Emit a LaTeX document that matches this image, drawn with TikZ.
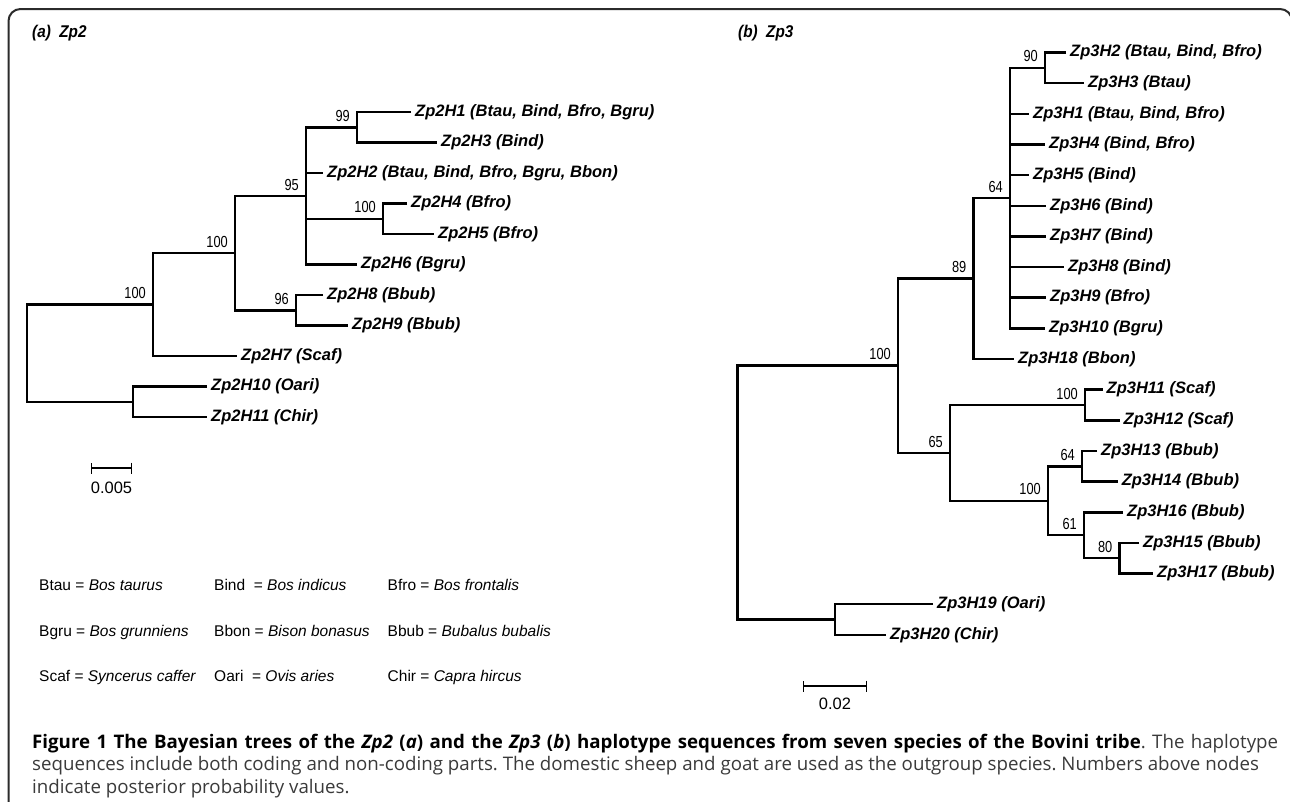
\documentclass[tikz,border=0pt]{standalone}
\usepackage{fontspec}
\usetikzlibrary{arrows.meta}
\setmainfont{Liberation Sans}
\newfontfamily\narrowsans[FakeStretch=0.8]{Liberation Sans}
\newfontfamily\titlesans[FakeStretch=0.9]{Liberation Sans}
\newfontfamily\capsans{Open Sans}
\definecolor{framecol}{HTML}{2B2B2B}
\definecolor{capgrey}{HTML}{3A3A3A}
\begin{document}
\frenchspacing
\begin{tikzpicture}[x=1pt,y=-1pt,
  br/.style={line width=2.5pt, line join=miter},
  leaf/.style={anchor=west, inner xsep=4pt, inner ysep=0pt, font=\fontsize{16.5}{18}\selectfont\bfseries\itshape},
  bs/.style={anchor=south east, inner sep=0pt, xshift=-7pt, yshift=5.5pt, font=\narrowsans\fontsize{16}{18}\selectfont},
  ttl/.style={anchor=west, inner sep=0pt, font=\titlesans\fontsize{17}{19}\selectfont\bfseries\itshape},
  sbar/.style={line width=1.3pt, {Bar[width=11pt,line width=1.3pt]}-{Bar[width=11pt,line width=1.3pt]}},
  sblab/.style={inner sep=0pt, font=\fontsize{16.5}{18}\selectfont},
  lg/.style={anchor=base west, inner sep=0pt, font=\fontsize{15.5}{17}\selectfont},
  capline/.style={anchor=base west, inner sep=0pt, font=\capsans\fontsize{18.7}{22.5}\selectfont}
]
\useasboundingbox (0,0) rectangle (1290,801);
% frame
\draw[line width=2pt, framecol, rounded corners=12pt] (8.5,815) -- (8.5,9) -- (1292,9) -- (1292,815);

% titles
\node[ttl] (ta) at (32,33) {(a)~~Zp2};
\node[ttl] (tb) at (738,33) {(b)~~Zp3};

% ---------- left tree (Zp2) ----------
\node[leaf] (l1) at (411,112) {Zp2H1 (Btau, Bind, Bfro, Bgru)};
\node[leaf] (l3) at (437,142.5) {Zp2H3 (Bind)};
\node[leaf] (l2) at (323,173) {Zp2H2 (Btau, Bind, Bfro, Bgru, Bbon)};
\node[leaf] (l4) at (407,203.5) {Zp2H4 (Bfro)};
\node[leaf] (l5) at (434,234) {Zp2H5 (Bfro)};
\node[leaf] (l6) at (357,264.5) {Zp2H6 (Bgru)};
\node[leaf] (l8) at (323,295) {Zp2H8 (Bbub)};
\node[leaf] (l9) at (348,325.5) {Zp2H9 (Bbub)};
\node[leaf] (l7) at (237,356) {Zp2H7 (Scaf)};
\node[leaf] (l10) at (207,386.5) {Zp2H10 (Oari)};
\node[leaf] (l11) at (207,417) {Zp2H11 (Chir)};

\coordinate (n99) at (357,127.25);
\coordinate (n100c) at (383,218.75);
\coordinate (n95) at (306,195.9);
\coordinate (n96) at (296,310.25);
\coordinate (nB) at (235,253.1);
\coordinate (nA) at (153,304.5);
\coordinate (nOut) at (133,401.75);
\coordinate (root) at (27,353.1);

\draw[br] (l1.west) -| (n99) |- (l3.west);
\draw[br] (l4.west) -| (n100c) |- (l5.west);
\draw[br] (n99) -| (n95) |- (l6.west);
\draw[br] (n95 |- l2.west) -- (l2.west);
\draw[br] (n95 |- n100c) -- (n100c);
\draw[br] (l8.west) -| (n96) |- (l9.west);
\draw[br] (n95) -| (nB) |- (n96);
\draw[br] (nB) -| (nA) |- (l7.west);
\draw[br] (l10.west) -| (nOut) |- (l11.west);
\draw[br] (nA) -| (root) |- (nOut);

\node[bs] (b99) at (n99) {99};
\node[bs] (b100c) at (n100c) {100};
\node[bs] (b95) at (n95) {95};
\node[bs] (b96) at (n96) {96};
\node[bs] (bB) at (nB) {100};
\node[bs] (bA) at (nA) {100};

% scale bar left
\coordinate (sa1) at (91,468);
\coordinate (sa2) at (132,468);
\draw[sbar] (sa1) -- (sa2);
\node[sblab] (sat) at (111.5,488) {0.005};

% legend
\node[lg] (lg1) at (39,590.5) {Btau = \textit{Bos taurus}};
\node[lg] (lg2) at (214,590.5) {Bind~~= \textit{Bos indicus}};
\node[lg] (lg3) at (387.5,590.5) {Bfro = \textit{Bos frontalis}};
\node[lg] (lg4) at (39,636.5) {Bgru = \textit{Bos grunniens}};
\node[lg] (lg5) at (214,636.5) {Bbon = \textit{Bison bonasus}};
\node[lg] (lg6) at (387.5,636.5) {Bbub = \textit{Bubalus bubalis}};
\node[lg] (lg7) at (39,681.5) {Scaf = \textit{Syncerus caffer}};
\node[lg] (lg8) at (214,681.5) {Oari~~= \textit{Ovis aries}};
\node[lg] (lg9) at (387.5,681.5) {Chir = \textit{Capra hircus}};

% ---------- right tree (Zp3) ----------
\node[leaf] (r2) at (1066,52.5) {Zp3H2 (Btau, Bind, Bfro)};
\node[leaf] (r3) at (1084,83.15) {Zp3H3 (Btau)};
\node[leaf] (r1) at (1029,113.8) {Zp3H1 (Btau, Bind, Bfro)};
\node[leaf] (r4) at (1045,144.45) {Zp3H4 (Bind, Bfro)};
\node[leaf] (r5) at (1029,175.1) {Zp3H5 (Bind)};
\node[leaf] (r6) at (1046,205.75) {Zp3H6 (Bind)};
\node[leaf] (r7) at (1046,236.4) {Zp3H7 (Bind)};
\node[leaf] (r8) at (1064,267.05) {Zp3H8 (Bind)};
\node[leaf] (r9) at (1046,297.7) {Zp3H9 (Bfro)};
\node[leaf] (r10) at (1045,328.35) {Zp3H10 (Bgru)};
\node[leaf] (r18) at (1014,359) {Zp3H18 (Bbon)};
\node[leaf] (r11) at (1102.5,389.65) {Zp3H11 (Scaf)};
\node[leaf] (r12) at (1119.5,420.3) {Zp3H12 (Scaf)};
\node[leaf] (r13) at (1097,450.95) {Zp3H13 (Bbub)};
\node[leaf] (r14) at (1117.6,481.6) {Zp3H14 (Bbub)};
\node[leaf] (r16) at (1123,512.25) {Zp3H16 (Bbub)};
\node[leaf] (r15) at (1139,542.9) {Zp3H15 (Bbub)};
\node[leaf] (r17) at (1153,573.55) {Zp3H17 (Bbub)};
\node[leaf] (r19) at (933,604.2) {Zp3H19 (Oari)};
\node[leaf] (r20) at (886,634.85) {Zp3H20 (Chir)};

\coordinate (m90) at (1045,67.8);
\coordinate (m64) at (1010,198.1);
\coordinate (m89) at (973.5,278.5);
\coordinate (m100s) at (1085,405);
\coordinate (m64b) at (1082,466.3);
\coordinate (m80) at (1119.5,558.2);
\coordinate (m61) at (1084,535.2);
\coordinate (m100b) at (1048,500.8);
\coordinate (m65) at (950,452.9);
\coordinate (m100i) at (898,365.7);
\coordinate (mOut) at (835,619.5);
\coordinate (mroot) at (737.6,492.6);

\draw[br] (r2.west) -| (m90) |- (r3.west);
\draw[br] (m90) -| (m64) |- (r10.west);
\foreach \r in {r1,r4,r5,r6,r7,r8,r9} \draw[br] (m64 |- \r.west) -- (\r.west);
\draw[br] (m64) -| (m89) |- (r18.west);
\draw[br] (r11.west) -| (m100s) |- (r12.west);
\draw[br] (r13.west) -| (m64b) |- (r14.west);
\draw[br] (r15.west) -| (m80) |- (r17.west);
\draw[br] (r16.west) -| (m61) |- (m80);
\draw[br] (m64b) -| (m100b) |- (m61);
\draw[br] (m100s) -| (m65) |- (m100b);
\draw[br] (m89) -| (m100i) |- (m65);
\draw[br] (r19.west) -| (mOut) |- (r20.west);
\draw[br] (m100i) -| (mroot) |- (mOut);

\node[bs] (c90) at (m90) {90};
\node[bs] (c64) at (m64) {64};
\node[bs] (c89) at (m89) {89};
\node[bs] (c100i) at (m100i) {100};
\node[bs] (c100s) at (m100s) {100};
\node[bs] (c65) at (m65) {65};
\node[bs] (c64b) at (m64b) {64};
\node[bs] (c100b) at (m100b) {100};
\node[bs] (c61) at (m61) {61};
\node[bs] (c80) at (m80) {80};

% scale bar right
\coordinate (sb1) at (803,686);
\coordinate (sb2) at (867,686);
\draw[sbar] (sb1) -- (sb2);
\node[sblab] (sbt) at (835,704) {0.02};

% caption
\node[capline] (cap1) at (32,748) {\makebox[1246pt][s]{\bfseries Figure 1 The Bayesian trees of the \textit{Zp2} (\textit{a}) and the \textit{Zp3} (\textit{b}) haplotype sequences from seven species of the Bovini tribe\color{capgrey}\mdseries. The haplotype}};
\node[capline, text=capgrey] (cap2) at (32,770.5) {sequences include both coding and non-coding parts. The domestic sheep and goat are used as the outgroup species. Numbers above nodes};
\node[capline, text=capgrey] (cap3) at (32,793) {indicate posterior probability values.};
\end{tikzpicture}
\end{document}
